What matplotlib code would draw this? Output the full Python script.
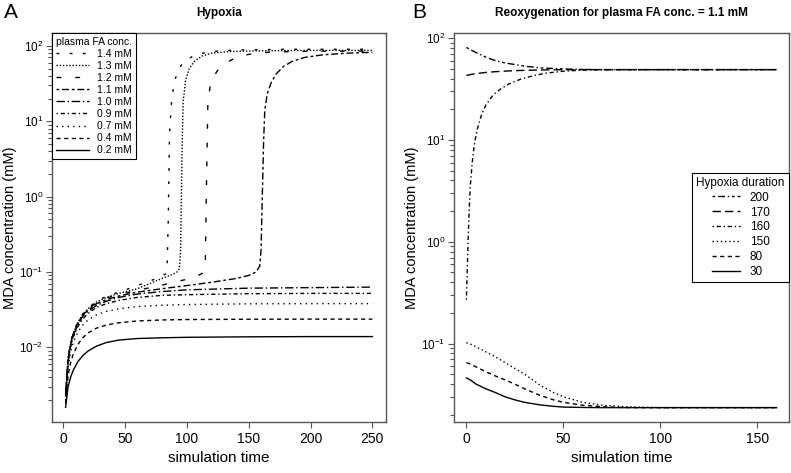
import numpy as np
import matplotlib
matplotlib.use("Agg")
import matplotlib.pyplot as plt
from matplotlib.ticker import FixedLocator, NullFormatter, LogLocator

plt.rcParams['font.family'] = ['Liberation Sans', 'DejaVu Sans']

# ---- Panel A data: hypoxia, MDA (mM) vs simulation time ----
t_base = [2, 4, 6, 8, 12, 16, 20, 27, 35, 45, 60, 80, 100, 150, 200, 250]
mda_02 = [0.0016, 0.0030, 0.0040, 0.0049, 0.0065, 0.0078, 0.0089, 0.0104,
          0.0116, 0.0125, 0.0131, 0.0134, 0.0136, 0.0138, 0.0139, 0.0139]
mda_04 = [0.0018, 0.0042, 0.0062, 0.0080, 0.0110, 0.0135, 0.0155, 0.0180,
          0.0198, 0.0212, 0.0224, 0.0231, 0.0234, 0.0236, 0.0237, 0.0237]
mda_07 = [0.0020, 0.0055, 0.0085, 0.0115, 0.0160, 0.0200, 0.0230, 0.0270,
          0.0300, 0.0325, 0.0348, 0.0362, 0.0370, 0.0378, 0.0380, 0.0380]
mda_09 = [0.0022, 0.0062, 0.0100, 0.0135, 0.0190, 0.0240, 0.0280, 0.0340,
          0.0380, 0.0420, 0.0460, 0.0490, 0.0500, 0.0515, 0.0520, 0.0520]
mda_10 = [0.0023, 0.0066, 0.0105, 0.0142, 0.0200, 0.0260, 0.0300, 0.0360,
          0.0410, 0.0460, 0.0510, 0.0550, 0.0580, 0.0610, 0.0620, 0.0630]

t_11 = [2, 4, 6, 8, 12, 16, 20, 27, 35, 45, 60, 80, 100, 120, 140, 150, 156,
        159, 160, 161, 162, 163, 165, 168, 172, 178, 185, 195, 210, 230, 250]
mda_11 = [0.0024, 0.0070, 0.0110, 0.0150, 0.0210, 0.0270, 0.0310, 0.0380,
          0.0430, 0.0480, 0.0540, 0.0600, 0.0660, 0.0730, 0.0820, 0.0900,
          0.1000, 0.1200, 0.2, 1.0, 5.0, 14.0, 23.0, 32.0, 42.0, 53.0, 62.0,
          70.0, 76.0, 80.0, 82.0]

t_12 = [2, 4, 6, 8, 12, 16, 20, 27, 35, 45, 60, 80, 100, 108, 112, 114, 115,
        116, 117, 119, 122, 126, 132, 140, 150, 165, 185, 210, 250]
mda_12 = [0.0024, 0.0068, 0.0108, 0.0148, 0.0210, 0.0270, 0.0320, 0.0390,
          0.0450, 0.0500, 0.0570, 0.0670, 0.0800, 0.0880, 0.0950, 0.1000,
          0.15, 2.0, 18.0, 30.0, 40.0, 50.0, 60.0, 70.0, 77.0, 82.0, 84.0,
          85.0, 85.0]

t_13 = [2, 4, 6, 8, 12, 16, 20, 27, 35, 45, 60, 80, 88, 92, 94, 95, 96, 97,
        99, 102, 106, 112, 120, 135, 160, 200, 250]
mda_13 = [0.0025, 0.0072, 0.0112, 0.0152, 0.0215, 0.0275, 0.0325, 0.0400,
          0.0460, 0.0520, 0.0600, 0.0820, 0.0920, 0.1000, 0.1100, 0.2, 3.0,
          18.0, 35.0, 50.0, 62.0, 73.0, 80.0, 84.0, 86.0, 87.0, 87.0]

t_14 = [2, 4, 6, 8, 12, 16, 20, 27, 35, 45, 60, 72, 80, 83, 84, 85, 86, 88,
        91, 95, 100, 108, 120, 140, 180, 250]
mda_14 = [0.0026, 0.0075, 0.0115, 0.0156, 0.0220, 0.0280, 0.0330, 0.0410,
          0.0475, 0.0540, 0.0660, 0.0780, 0.0880, 0.0950, 0.1100, 0.5, 7.0,
          22.0, 38.0, 54.0, 66.0, 77.0, 84.0, 88.0, 90.0, 90.0]

# ---- Panel B data: reoxygenation, plasma FA conc. = 1.1 mM ----
t_re = [0, 2, 5, 10, 15, 20, 25, 30, 38, 45, 50, 60, 70, 80, 90, 100, 130, 160]
re_200 = [81, 77, 72, 65, 60, 57, 55, 53, 51, 50.3, 49.8, 49.2, 49, 49, 49,
          49, 49, 49]
re_170 = [43, 43.8, 44.8, 46, 46.8, 47.4, 47.9, 48.2, 48.6, 48.8, 48.9, 49,
          49, 49, 49, 49, 49, 49]
t_160 = [0, 0.5, 1, 1.5, 2, 3, 4, 5.5, 7.5, 10, 14, 18, 22, 28, 35, 42, 50,
         60, 70, 80, 100, 130, 160]
re_160 = [0.27, 0.6, 1.2, 2.2, 3.5, 6, 8.8, 12.5, 17, 22, 28, 32, 35.5, 39.5,
          43, 45.5, 47.3, 48.5, 48.9, 49, 49, 49, 49]
re_150 = [0.102, 0.099, 0.093, 0.083, 0.074, 0.065, 0.057, 0.050, 0.039,
          0.033, 0.030, 0.0265, 0.0248, 0.0241, 0.0237, 0.0235, 0.0235, 0.0235]
re_80 = [0.065, 0.063, 0.059, 0.053, 0.048, 0.044, 0.040, 0.036, 0.031,
         0.028, 0.0265, 0.0248, 0.0240, 0.0236, 0.0235, 0.0235, 0.0235, 0.0235]
re_30 = [0.046, 0.044, 0.040, 0.036, 0.033, 0.030, 0.0280, 0.0265, 0.0250,
         0.0242, 0.0238, 0.0236, 0.0235, 0.0235, 0.0235, 0.0235, 0.0235, 0.0235]

fig = plt.figure(figsize=(7.91, 4.73), dpi=100)
axA = fig.add_axes([52/791, 51/473, 334/791, 389/473])
axB = fig.add_axes([454/791, 51/473, 335/791, 389/473])

lw = 1.0
seriesA = [
    (t_14, mda_14, (0, (2, 7.5)), '1.4 mM'),
    (t_13, mda_13, (0, (1, 1.3)), '1.3 mM'),
    (t_12, mda_12, (0, (3.5, 10)), '1.2 mM'),
    (t_11, mda_11, (0, (2, 2, 5, 2)), '1.1 mM'),
    (t_base, mda_10, (0, (6, 2, 1, 2)), '1.0 mM'),
    (t_base, mda_09, (0, (1, 2, 3, 2)), '0.9 mM'),
    (t_base, mda_07, (0, (1, 3)), '0.7 mM'),
    (t_base, mda_04, (0, (3, 2.5)), '0.4 mM'),
    (t_base, mda_02, '-', '0.2 mM'),
]
for x, y, ls, lab in seriesA:
    axA.plot(x, y, color='black', lw=lw, ls=ls, label=lab)

seriesB = [
    (t_re, re_200, (0, (2, 2, 5, 2, 1, 2)), '200'),
    (t_re, re_170, (0, (6, 3)), '170'),
    (t_160, re_160, (0, (1, 2, 3, 2)), '160'),
    (t_re, re_150, (0, (1, 2)), '150'),
    (t_re, re_80, (0, (3, 2.5)), '80'),
    (t_re, re_30, '-', '30'),
]
for x, y, ls, lab in seriesB:
    axB.plot(x, y, color='black', lw=lw, ls=ls, label=lab)

def style(ax, xlim, ylog, xticks, ydec):
    ax.set_yscale('log')
    ax.set_xlim(*xlim)
    ax.set_ylim(10**ylog[0], 10**ylog[1])
    ax.set_xticks(xticks)
    ax.yaxis.set_major_locator(FixedLocator([10.0**k for k in ydec]))
    ax.set_yticklabels([r'$\mathregular{10^{%d}}$' % k for k in ydec])
    ax.yaxis.set_minor_locator(LogLocator(base=10, subs=np.arange(2, 10)))
    ax.yaxis.set_minor_formatter(NullFormatter())
    for sp in ax.spines.values():
        sp.set_color('#555555')
        sp.set_linewidth(1.0)
    ax.tick_params(axis='both', which='major', direction='out', length=4,
                   width=0.8, color='#555555', pad=3)
    ax.tick_params(axis='x', labelsize=10)
    ax.tick_params(axis='y', labelsize=8.5, pad=2)
    ax.tick_params(axis='y', which='minor', direction='out', length=3,
                   width=0.8, color='#555555')
    ax.set_xlabel('simulation time', fontsize=11, labelpad=4)
    ax.set_ylabel('MDA concentration (mM)', fontsize=10.5, labelpad=2)

style(axA, (-9, 261), (-2.99, 2.17), [0, 50, 100, 150, 200, 250],
      [-2, -1, 0, 1, 2])
style(axB, (-6.4, 166.4), (-1.77, 2.05), [0, 50, 100, 150],
      [-1, 0, 1, 2])

axA.set_title('Hypoxia', fontsize=8.5, fontweight='bold', pad=12)
axB.set_title('Reoxygenation for plasma FA conc. = 1.1 mM', fontsize=8.5,
              fontweight='bold', pad=12)
fig.text(4/791, 1 - 12/473, 'A', fontsize=15, va='center', ha='left')
fig.text(412/791, 1 - 12/473, 'B', fontsize=15, va='center', ha='left')

legA = axA.legend(loc='upper left', title='plasma FA conc.', fontsize=7.5,
                  title_fontsize=7.5, frameon=True, fancybox=False,
                  borderaxespad=0, labelspacing=0.2, handlelength=3.2,
                  handletextpad=0.8, borderpad=0.35)
legA.get_frame().set_edgecolor('black')
legA.get_frame().set_linewidth(0.8)
legA.get_frame().set_alpha(1)

legB = axB.legend(loc='center right', title='Hypoxia duration', fontsize=8.5,
                  title_fontsize=8.5, frameon=True, fancybox=False,
                  borderaxespad=0, labelspacing=0.25, handlelength=2.4,
                  handletextpad=0.8, borderpad=0.35)
legB.get_frame().set_edgecolor('black')
legB.get_frame().set_linewidth(0.8)
legB.get_frame().set_alpha(1)

fig.savefig('out.png', dpi=100)
